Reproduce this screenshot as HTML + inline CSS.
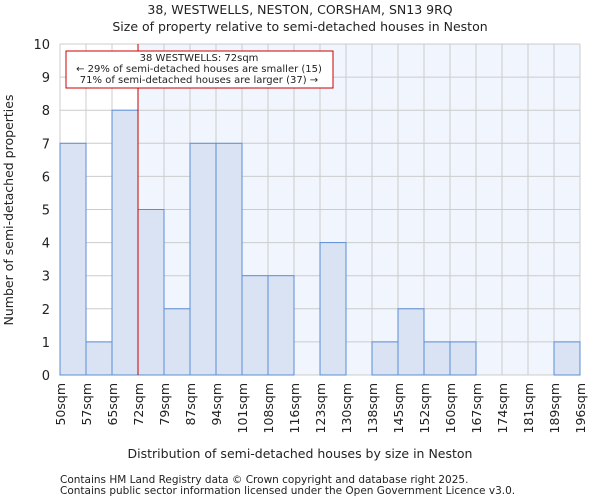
<!DOCTYPE html>
<html><head><meta charset="utf-8"><style>
body{margin:0;background:#fff;font-family:"DejaVu Sans","Liberation Sans",sans-serif;}
svg text{font-family:"DejaVu Sans","Liberation Sans",sans-serif;fill:#222;}
</style></head><body>
<svg id="c" width="600" height="500">
<text x="300" y="14" font-size="12.5" text-anchor="middle">38, WESTWELLS, NESTON, CORSHAM, SN13 9RQ</text>
<text x="300" y="31" font-size="12.5" text-anchor="middle">Size of property relative to semi-detached houses in Neston</text>
<g id="plot"></g>
<text x="300" y="458" font-size="12.5" text-anchor="middle">Distribution of semi-detached houses by size in Neston</text>
<text transform="translate(13,210) rotate(-90)" font-size="12.5" text-anchor="middle">Number of semi-detached properties</text>
<text x="60" y="483" font-size="10.5" fill="#444">Contains HM Land Registry data © Crown copyright and database right 2025.</text>
<text x="60" y="494" font-size="10.5" fill="#444">Contains public sector information licensed under the Open Government Licence v3.0.</text>
</svg>
<script>
const categories=["50sqm","57sqm","65sqm","72sqm","79sqm","87sqm","94sqm","101sqm","108sqm","116sqm","123sqm","130sqm","138sqm","145sqm","152sqm","160sqm","167sqm","174sqm","181sqm","189sqm","196sqm"];
const counts=[7,1,8,5,2,7,7,3,3,0,4,0,1,2,1,1,0,0,0,1];
const yTicks=[0,1,2,3,4,5,6,7,8,9,10];
const markerIndex=3;
const L=60,R=580,T=44,B=375,yMax=10;
const nb=counts.length;
const xs=i=>L+(R-L)*i/nb;
const ys=v=>B-(B-T)*v/yMax;
const NS="http://www.w3.org/2000/svg";
const g=document.getElementById('plot');
function mk(t,a,p){const e=document.createElementNS(NS,t);for(const k in a)e.setAttribute(k,a[k]);(p||g).appendChild(e);return e;}
let e;
e=mk('rect',{x:L,y:T,width:xs(markerIndex)-L,height:B-T,fill:'#ffffff'});


e=mk('rect',{x:xs(markerIndex),y:T,width:R-xs(markerIndex),height:B-T,fill:'#f1f5fd'});


yTicks.forEach(v=>{
 e=mk('line',{x1:L,x2:R,y1:ys(v),y2:ys(v),stroke:'#cccccc','stroke-width':1});
 
 
 e=mk('text',{x:L-10,y:ys(v)+5,'font-size':13,'text-anchor':'end'});e.textContent=v;
 
 
});
categories.forEach((c,i)=>{
 e=mk('line',{x1:xs(i),x2:xs(i),y1:T,y2:B,stroke:'#cccccc','stroke-width':1});
 
 
 e=mk('text',{transform:`translate(${xs(i)+5},${B+8}) rotate(-90)`,'font-size':12.5,'text-anchor':'end'});e.textContent=c;
 
 
});
counts.forEach((v,i)=>{
 if(v<=0)return;
 e=mk('rect',{x:xs(i),y:ys(v),width:xs(i+1)-xs(i),height:ys(0)-ys(v),fill:'#dae3f3',stroke:'#5b8ed6','stroke-width':1});
 
 
});
e=mk('line',{x1:xs(markerIndex),x2:xs(markerIndex),y1:T,y2:B,stroke:'#cc0000','stroke-width':1});


const ag=mk('g',{});


mk('rect',{x:66,y:51,width:267,height:37,fill:'#fff',stroke:'#cc0000','stroke-width':1},ag);
["38 WESTWELLS: 72sqm","← 29% of semi-detached houses are smaller (15)","71% of semi-detached houses are larger (37) →"].forEach((t,k)=>{
 const tx=mk('text',{x:199,y:61+k*11,'font-size':10,'text-anchor':'middle'},ag);tx.textContent=t;
 
 
});
</script>
</body></html>
